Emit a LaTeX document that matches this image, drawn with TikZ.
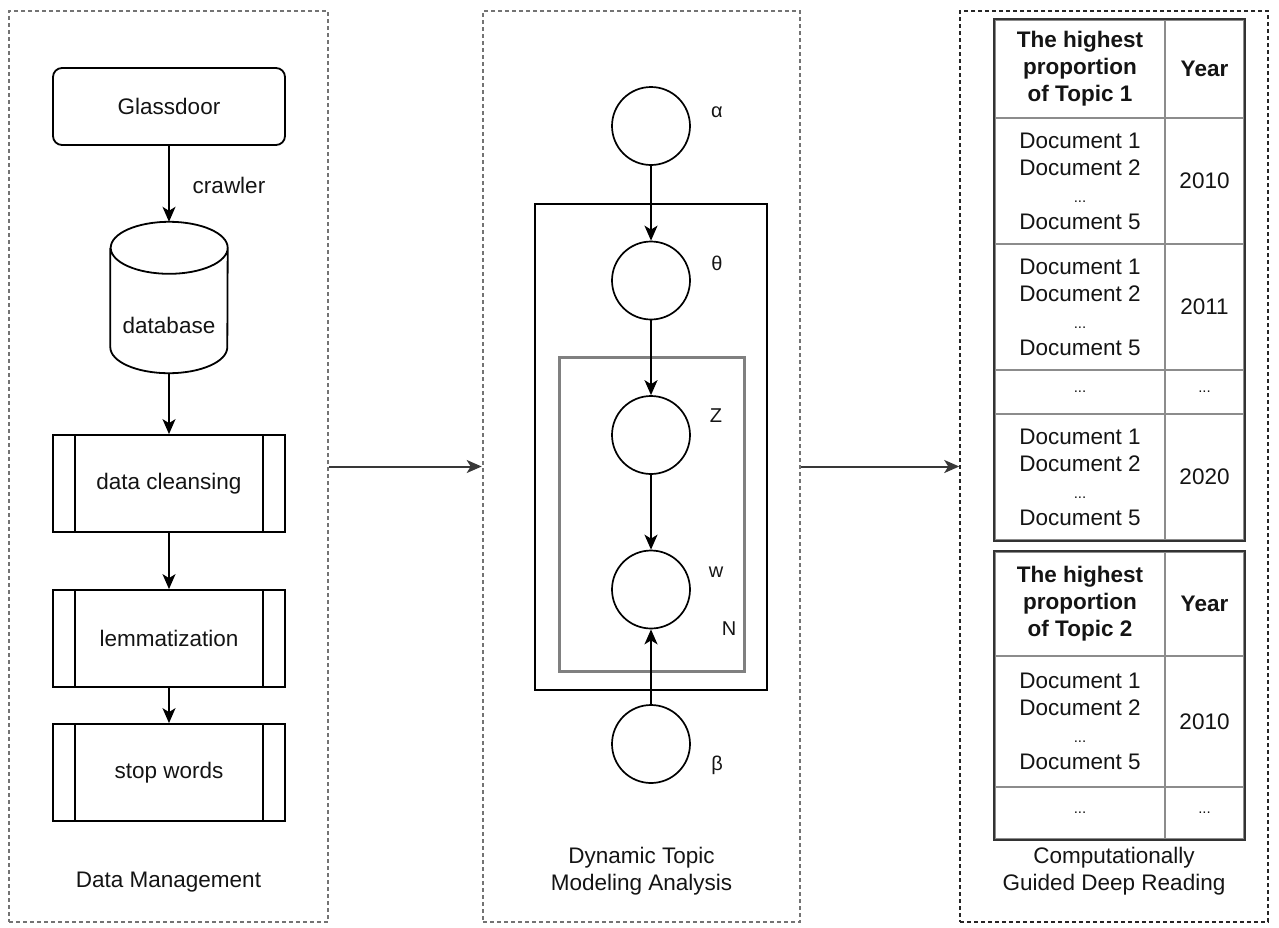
\documentclass[tikz,border=0pt]{standalone}
\usepackage{fontspec}
\setmainfont{Liberation Sans}
\usetikzlibrary{arrows.meta}
\newcommand{\doclist}{Document 1\\Document 2\\{\fontsize{15}{27}\selectfont ...}\\Document 5}
\newcommand{\smalldots}{{\fontsize{15}{18}\selectfont ...}}
\begin{document}
\begin{tikzpicture}[x=1pt,y=-1pt,
  every node/.style={font=\fontsize{22.5}{27}\selectfont, text=black!92},
  panel/.style={draw=black!55, line width=2.6pt, dash pattern=on 4pt off 3pt, inner sep=0pt},
  panelR/.style={draw=black!85, line width=1.5pt, dash pattern=on 4pt off 3pt, inner sep=0pt},
  box/.style={draw, line width=1.8pt, minimum width=232pt, minimum height=97pt, inner sep=0pt},
  arr/.style={-{Stealth[length=15pt,width=13pt,inset=4pt]}, line width=1.8pt},
  arrL/.style={-{Stealth[length=15pt,width=13pt,inset=4pt]}, line width=2pt, draw=black!78},
  latent/.style={circle, draw, line width=1.7pt, minimum size=78pt, inner sep=0pt},
  glabel/.style={font=\fontsize{20}{24}\selectfont},
  cell/.style={draw=black!45, line width=1.8pt, inner sep=0pt, align=center},
  frame/.style={draw=black!80, line width=2.5pt}
]
\useasboundingbox (0,0) rectangle (1279,927);

% panels
\node[panel, minimum width=319pt, minimum height=911pt] (P1) at (168.5,466.5) {};
\node[panel, minimum width=317pt, minimum height=911pt] (P2) at (641.5,466.5) {};
\node[panelR, minimum width=308pt, minimum height=911pt] (P3) at (1114,466.5) {};
\draw[arrL] (P1.east) -- (P2.west);
\draw[arrL] (P2.east) -- (P3.west);

% left column
\node[box, rounded corners=9pt, minimum height=77pt] (gd) at (169,106.5) {Glassdoor};
\node[minimum width=117pt, minimum height=151pt, inner sep=0pt] (db) at (169,297.5) {};
\draw[line width=1.8pt] ([yshift=-26pt]db.north west) -- ([yshift=26pt]db.south west)
  arc[start angle=180,end angle=360,x radius=58.5pt,y radius=26pt]
  -- ([yshift=-26pt]db.north east)
  arc[start angle=0,end angle=180,x radius=58.5pt,y radius=26pt]
  arc[start angle=180,end angle=360,x radius=58.5pt,y radius=26pt];
\node (dbl) at (169,325) {database};
\node[box] (dc) at (169,483.5) {data cleansing};
\node[box] (lem) at (169,638.5) {lemmatization};
\node[box] (sw) at (169,772.5) {stop words};
\foreach \n in {dc,lem,sw}{
  \draw[line width=1.8pt] ([xshift=23pt]\n.north west) -- ([xshift=23pt]\n.south west);
  \draw[line width=1.8pt] ([xshift=-23pt]\n.north east) -- ([xshift=-23pt]\n.south east);
}
\draw[arr] (gd.south) -- (db.north);
\node (crawl) at (229,185) {crawler};
\draw[arr] (db.south) -- (dc.north);
\draw[arr] (dc.south) -- (lem.north);
\draw[arr] (lem.south) -- (sw.north);
\node (t1) at (168.5,882) {Data Management};

% middle column
\node[draw, line width=1.7pt, minimum width=232pt, minimum height=486pt, inner sep=0pt] (outer) at (651,447) {};
\node[draw=black!50, line width=3pt, minimum width=185pt, minimum height=314pt, inner sep=0pt] (inner) at (651.5,514) {};
\node[latent] (alpha) at (651,126) {};
\node[latent] (theta) at (651,280.5) {};
\node[latent] (z) at (651,435) {};
\node[latent] (w) at (651,589.5) {};
\node[latent] (beta) at (651,744) {};
\node[glabel] (la) at (717,112) {α};
\node[glabel] (lt) at (717,263) {θ};
\node[glabel] (lz) at (716,416) {Z};
\node[glabel] (lw) at (716,572) {w};
\node[glabel] (ln) at (729,629) {N};
\node[glabel] (lb) at (717,765) {β};
\draw[arr] (alpha.south) -- (theta.north);
\draw[arr] (theta.south) -- (z.north);
\draw[arr] (z.south) -- (w.north);
\draw[arr] (beta.north) -- (w.south);
\node[align=center] (t2) at (641.5,871.5) {Dynamic Topic\\Modeling Analysis};

% right column: table 1
\node[cell, minimum width=170pt, minimum height=98pt] (a0) at (1080,69) {\textbf{The highest}\\\textbf{proportion}\\\textbf{of Topic 1}};
\node[cell, minimum width=79pt, minimum height=98pt] (b0) at (1204.5,69) {\textbf{Year}};
\node[cell, minimum width=170pt, minimum height=126pt] (a1) at (1080,181) {\doclist};
\node[cell, minimum width=79pt, minimum height=126pt] (b1) at (1204.5,181) {2010};
\node[cell, minimum width=170pt, minimum height=126pt] (a2) at (1080,307) {\doclist};
\node[cell, minimum width=79pt, minimum height=126pt] (b2) at (1204.5,307) {2011};
\node[cell, minimum width=170pt, minimum height=44pt] (a3) at (1080,392) {\smalldots};
\node[cell, minimum width=79pt, minimum height=44pt] (b3) at (1204.5,392) {\smalldots};
\node[cell, minimum width=170pt, minimum height=126pt] (a4) at (1080,477) {\doclist};
\node[cell, minimum width=79pt, minimum height=126pt] (b4) at (1204.5,477) {2020};
\draw[frame] (a0.north west) rectangle (b4.south east);

% table 2
\node[cell, minimum width=170pt, minimum height=104pt] (c0) at (1080,604) {\textbf{The highest}\\\textbf{proportion}\\\textbf{of Topic 2}};
\node[cell, minimum width=79pt, minimum height=104pt] (d0) at (1204.5,604) {\textbf{Year}};
\node[cell, minimum width=170pt, minimum height=131pt] (c1) at (1080,721.5) {\doclist};
\node[cell, minimum width=79pt, minimum height=131pt] (d1) at (1204.5,721.5) {2010};
\node[cell, minimum width=170pt, minimum height=52pt] (c2) at (1080,813) {\smalldots};
\node[cell, minimum width=79pt, minimum height=52pt] (d2) at (1204.5,813) {\smalldots};
\draw[frame] (c0.north west) rectangle (d2.south east);

\node[align=center] (t3) at (1114,871.5) {Computationally\\Guided Deep Reading};
\end{tikzpicture}
\end{document}
